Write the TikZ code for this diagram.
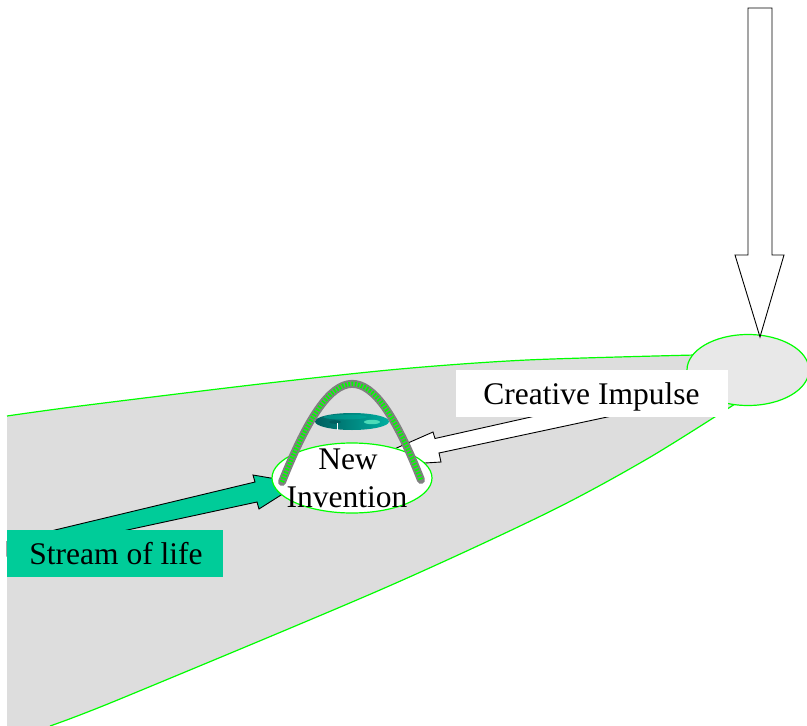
\documentclass[tikz,border=0pt]{standalone}
\usepackage{fontspec}
\setmainfont{Liberation Serif}
\newfontfamily\timesfont{Liberation Serif}
\usetikzlibrary{shapes.geometric}
\definecolor{regiongray}{RGB}{221,221,221}
\definecolor{padgray}{RGB}{232,232,232}
\definecolor{edgegreen}{RGB}{0,255,0}
\definecolor{streamteal}{RGB}{0,204,153}
\definecolor{archgray}{RGB}{128,128,128}
\definecolor{discdark}{RGB}{0,95,95}
\definecolor{disclight}{RGB}{0,175,160}
\begin{document}
\begin{tikzpicture}[x=1pt,y=-1pt,
  edge/.style={draw=edgegreen, line width=1.2pt},
  blockarrow/.style={draw=black, line width=0.9pt, line join=miter},
  lbl/.style={font=\timesfont\fontsize{31.5}{38}\selectfont, inner sep=0pt, text=black},
  boxbg/.style={inner sep=0pt, draw=none}
]
\useasboundingbox (0,0) rectangle (807,726);
% stream region
\fill[regiongray] plot[smooth] coordinates {(7,416) (80,406) (260,384) (400,369) (527,360) (695,355)}
  -- (745,380)
  -- plot[smooth] coordinates {(735,404) (647,459) (547,513) (380,590) (120,699) (50,726)}
  -- (7,726) -- cycle;
\draw[edge] plot[smooth] coordinates {(7,416) (80,406) (260,384) (400,369) (527,360) (695,355)};
\draw[edge] plot[smooth] coordinates {(735,404) (647,459) (547,513) (380,590) (120,699) (50,726)};
% source pad
\node[ellipse, edge, fill=padgray, minimum width=122pt, minimum height=71pt, inner sep=0pt] (pad) at (748,370) {};
% vertical impulse arrow
\draw[blockarrow, fill=white] (748,8) -- (772,8) -- (772,255) -- (784,255) -- (760,337) -- (735,255) -- (748,255) -- cycle;
% creative impulse arrow
\draw[blockarrow, fill=white] (560,410.5) -- (435,438.5) -- (433,432) -- (392,450) -- (425,463) -- (441,462) -- (439,453) -- (640,410) -- cycle;
% stream of life arrow
\draw[blockarrow, fill=streamteal] (7,541.5) -- (255,482) -- (253,475) -- (300,483) -- (259,509) -- (257,502) -- (7,556) -- cycle;
% label boxes
\node[boxbg, fill=white, minimum width=272pt, minimum height=47pt] (cibox) at (592,393.5) {};
\node[lbl, anchor=base] (citext) at (591.5,404) {Creative Impulse};
\node[boxbg, fill=streamteal, minimum width=216pt, minimum height=47pt] (slbox) at (115,553.5) {};
\node[lbl, anchor=base] (sltext) at (116,564) {Stream of life};
% new invention
\node[ellipse, edge, fill=white, minimum width=160pt, minimum height=70pt, inner sep=0pt] (inv) at (352,478) {};
% disc
\shade[left color=discdark, right color=disclight] (352,421.5) ellipse [x radius=37, y radius=8.5];
\fill[disclight, opacity=0.5] (345,417) ellipse [x radius=22, y radius=2.5];
\fill[discdark] (335,422) ellipse [x radius=6, y radius=1.8];
\fill[streamteal!70!white] (372,422) ellipse [x radius=8, y radius=2.2];
\draw[white, line width=0.6pt] (337,423) -- (337,430);
% arch
\draw[archgray, line width=8pt, line cap=round] (282,482) .. controls (334,352) and (370,351) .. (421,480);
\draw[edgegreen, line width=4.5pt, dash pattern=on 1.6pt off 1.6pt] (282,482) .. controls (334,352) and (370,351) .. (421,480);
% invention text
\node[lbl, anchor=base] (invA) at (348,469) {New};
\node[lbl, anchor=base] (invB) at (347,507) {Invention};
\end{tikzpicture}
\end{document}
